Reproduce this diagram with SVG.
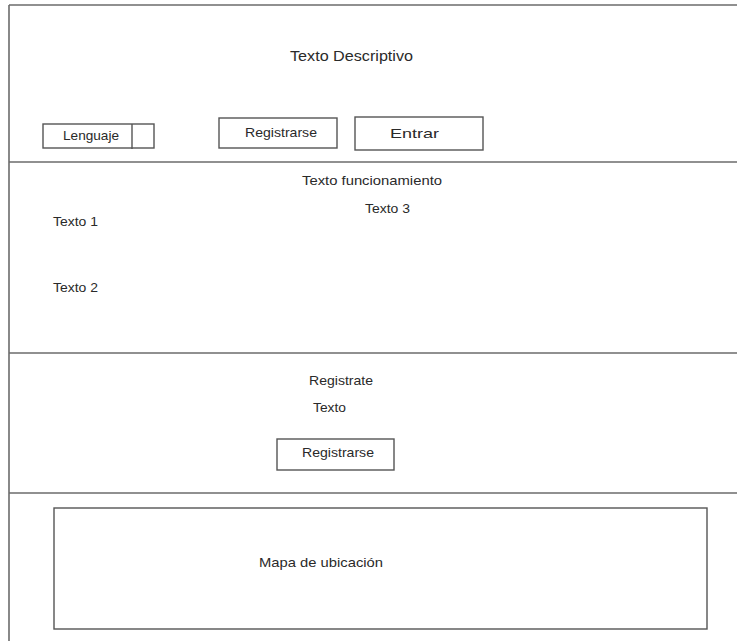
<svg xmlns="http://www.w3.org/2000/svg" width="737" height="641" viewBox="0 0 737 641">
  <style>
    .frame { stroke: #6b6b6b; stroke-width: 1.6; fill: none; }
    .box { stroke: #555; stroke-width: 1.4; fill: #fff; }
    .lbl { font-family: "Liberation Sans", Arial, sans-serif; font-size: 13px; fill: #2a2a2a; }
    .title { font-size: 14px; }
  </style>
  <rect width="737" height="641" fill="#fff"/>

  <!-- page frame: open on the right and bottom -->
  <g id="frame">
    <line class="frame" x1="9" y1="5" x2="737" y2="5"/>
    <line class="frame" x1="9" y1="5" x2="9" y2="641"/>
    <line class="frame" x1="9" y1="162" x2="737" y2="162"/>
    <line class="frame" x1="9" y1="353" x2="737" y2="353"/>
    <line class="frame" x1="9" y1="493" x2="737" y2="493"/>
  </g>

  <!-- header -->
  <g id="header">
    <text class="lbl title" x="290" y="61" textLength="123" lengthAdjust="spacingAndGlyphs">Texto Descriptivo</text>
    <g id="lenguaje">
      <rect class="box" x="43" y="124" width="111" height="24"/>
      <line class="box" x1="132" y1="124" x2="132" y2="149"/>
      <text class="lbl" x="63" y="140" textLength="56" lengthAdjust="spacingAndGlyphs">Lenguaje</text>
    </g>
    <g id="registrarse-top">
      <rect class="box" x="219" y="118" width="118" height="30"/>
      <text class="lbl" x="245" y="137" textLength="72" lengthAdjust="spacingAndGlyphs">Registrarse</text>
    </g>
    <g id="entrar">
      <rect class="box" x="355" y="117" width="128" height="33"/>
      <text class="lbl" x="390" y="138" textLength="49" lengthAdjust="spacingAndGlyphs">Entrar</text>
    </g>
  </g>

  <!-- how it works -->
  <g id="funcionamiento">
    <text class="lbl" x="302" y="185" textLength="140" lengthAdjust="spacingAndGlyphs">Texto funcionamiento</text>
    <text class="lbl" x="365" y="213" textLength="45" lengthAdjust="spacingAndGlyphs">Texto 3</text>
    <text class="lbl" x="53" y="226" textLength="45" lengthAdjust="spacingAndGlyphs">Texto 1</text>
    <text class="lbl" x="53" y="292" textLength="45" lengthAdjust="spacingAndGlyphs">Texto 2</text>
  </g>

  <!-- sign-up call to action -->
  <g id="registrate">
    <text class="lbl" x="309" y="385" textLength="64" lengthAdjust="spacingAndGlyphs">Registrate</text>
    <text class="lbl" x="313" y="412" textLength="33" lengthAdjust="spacingAndGlyphs">Texto</text>
    <g id="registrarse-bottom">
      <rect class="box" x="277" y="439" width="117" height="31"/>
      <text class="lbl" x="302" y="457" textLength="72" lengthAdjust="spacingAndGlyphs">Registrarse</text>
    </g>
  </g>

  <!-- location map -->
  <g id="mapa">
    <rect class="box" x="54" y="508" width="653" height="121"/>
    <text class="lbl" x="259" y="567" textLength="124" lengthAdjust="spacingAndGlyphs">Mapa de ubicación</text>
  </g>
</svg>
